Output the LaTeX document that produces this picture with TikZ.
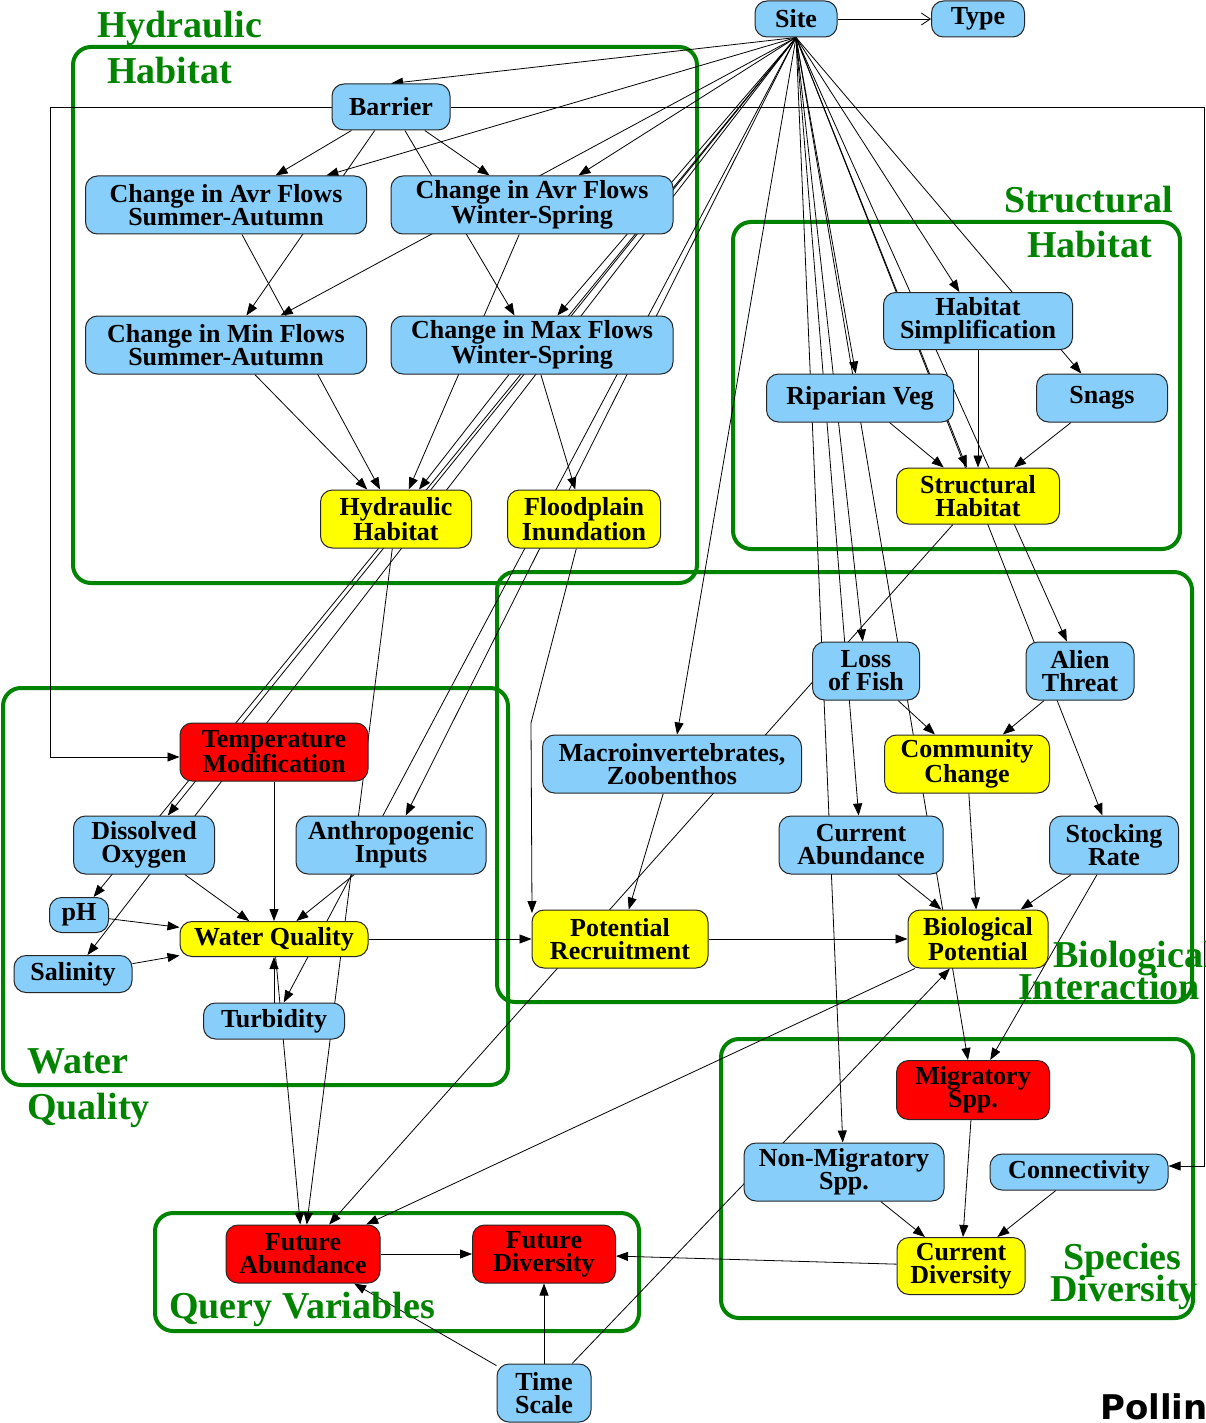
\documentclass[tikz,border=0pt]{standalone}
\usepackage{fontspec}
\setmainfont{Liberation Serif}
\newfontfamily\captionsans{DejaVu Sans}
\usetikzlibrary{arrows.meta}
\pgfdeclarelayer{background}
\pgfsetlayers{background,main}
\definecolor{nodeblue}{RGB}{135,206,250}
\definecolor{nodeyellow}{RGB}{255,255,0}
\definecolor{nodered}{RGB}{255,0,0}
\definecolor{clustergreen}{RGB}{0,132,0}
\begin{document}
\begin{tikzpicture}[x=1pt,y=-1pt,
  box/.style={draw=black!85, line width=1pt, rounded corners=12pt, align=center,
    inner sep=0pt, font=\fontsize{26}{23}\selectfont\bfseries},
  bnode/.style={box, fill=nodeblue},
  ynode/.style={box, fill=nodeyellow},
  rnode/.style={box, fill=nodered},
  sz/.style 2 args={minimum width=#1pt, minimum height=#2pt},
  arr/.style={-{Triangle[length=12pt,width=9pt]}, line width=0.8pt},
  oarr/.style={-{Straight Barb[length=9pt,width=12pt]}, line width=0.8pt},
  clus/.style={draw=clustergreen, line width=4pt, rounded corners=18pt},
  glab/.style={text=clustergreen, font=\fontsize{38}{40}\selectfont\bfseries,
    inner sep=0pt, anchor=base west}]

\useasboundingbox (0,0) rectangle (1206,1423);

% ---- variables ----
\node[bnode, sz={82}{36}]   (site)      at (796,19)   {Site};
\node[bnode, sz={93}{36}]   (type)      at (978,19)   {Type};
\node[bnode, sz={118}{46}]  (barrier)   at (391,107)  {Barrier};
\node[bnode, sz={281}{58}]  (avrsa)     at (226,205)  {Change in Avr Flows\\Summer-Autumn};
\node[bnode, sz={282}{58}]  (avrws)     at (532,205)  {Change in Avr Flows\\Winter-Spring};
\node[bnode, sz={281}{58}]  (minsa)     at (226,345)  {Change in Min Flows\\Summer-Autumn};
\node[bnode, sz={282}{58}]  (maxws)     at (532,345)  {Change in Max Flows\\Winter-Spring};
\node[ynode, sz={151}{58}]  (hydhab)    at (396,519)  {Hydraulic\\Habitat};
\node[ynode, sz={153}{58}]  (flood)     at (584,519)  {Floodplain\\Inundation};
\node[bnode, sz={189}{57}]  (habsimp)   at (978,321)  {Habitat\\Simplification};
\node[bnode, sz={187}{48}]  (ripveg)    at (860,398)  {Riparian Veg};
\node[bnode, sz={131}{48}]  (snags)     at (1102,398) {Snags};
\node[ynode, sz={163}{56}]  (structhab) at (978,496)  {Structural\\Habitat};
\node[bnode, sz={107}{58}]  (lossfish)  at (866,671)  {Loss\\of Fish};
\node[bnode, sz={108}{58}]  (alien)     at (1080,671) {Alien\\Threat};
\node[bnode, sz={259}{58}]  (macro)     at (672,764)  {Macroinvertebrates,\\Zoobenthos};
\node[ynode, sz={165}{58}]  (commchg)   at (967,764)  {Community\\Change};
\node[bnode, sz={164}{58}]  (curabund)  at (861,845)  {Current\\Abundance};
\node[bnode, sz={129}{58}]  (stocking)  at (1114,845) {Stocking\\Rate};
\node[ynode, sz={176}{58}]  (potrec)    at (620,939)  {Potential\\Recruitment};
\node[ynode, sz={140}{58}]  (biopot)    at (978,939)  {Biological\\Potential};
\node[rnode, sz={188}{58}]  (tempmod)   at (274,752)  {Temperature\\Modification};
\node[bnode, sz={141}{58}]  (dissox)    at (144,845)  {Dissolved\\Oxygen};
\node[bnode, sz={190}{58}]  (anthro)    at (391,845)  {Anthropogenic\\Inputs};
\node[bnode, sz={59}{35}]   (ph)        at (79,915)   {pH};
\node[ynode, sz={188}{35}]  (wq)        at (274,939)  {Water Quality};
\node[bnode, sz={118}{37}]  (salinity)  at (73,974)   {Salinity};
\node[bnode, sz={141}{36}]  (turb)      at (274,1021) {Turbidity};
\node[rnode, sz={153}{59}]  (migr)      at (973,1090) {Migratory\\Spp.};
\node[bnode, sz={200}{58}]  (nonmig)    at (844,1172) {Non-Migratory\\Spp.};
\node[bnode, sz={178}{36}]  (conn)      at (1079,1172) {Connectivity};
\node[ynode, sz={128}{57}]  (curdiv)    at (961,1266) {Current\\Diversity};
\node[rnode, sz={154}{58}]  (futabund)  at (303,1254) {Future\\Abundance};
\node[rnode, sz={143}{58}]  (futdiv)    at (544,1254) {Future\\Diversity};
\node[bnode, sz={94}{58}]   (timescale) at (544,1393) {Time\\Scale};

% ---- group titles ----
\node[glab] (tHyd1) at (97,38)    {Hydraulic};
\node[glab] (tHyd2) at (107,84)   {Habitat};
\node[glab] (tStr1) at (1004,213) {Structural};
\node[glab] (tStr2) at (1027,258) {Habitat};
\node[glab] (tBio1) at (1053,967) {Biological};
\node[glab] (tBio2) at (1018,999) {Interaction};
\node[glab] (tWat1) at (27,1073)  {Water};
\node[glab] (tWat2) at (27,1119)  {Quality};
\node[glab] (tSpe1) at (1063,1269) {Species};
\node[glab] (tSpe2) at (1050,1301) {Diversity};
\node[glab] (tQry)  at (169,1318) {Query Variables};

\node[font=\fontsize{34}{36}\selectfont\captionsans\bfseries, anchor=base west,
  inner sep=0pt] (caption) at (1100,1419) {Pollin};

% bend points of the routed connectors
\coordinate (bl1) at (50,107);
\coordinate (bl2) at (50,757);
\coordinate (br1) at (1204,107);
\coordinate (br2) at (1204,1166);
\coordinate (fb1) at (531,723);
\coordinate (fb2) at (532,913);

\begin{pgfonlayer}{background}
  \fill[white] (0,0) rectangle (1206,1423);
  % groups
  \draw[clus] (73,47) rectangle (697,583);
  \draw[clus] (733,222) rectangle (1180,549);
  \draw[clus] (497,572) rectangle (1192,1002);
  \draw[clus] (3,688) rectangle (508,1085);
  \draw[clus] (721,1039) rectangle (1193,1318);
  \draw[clus] (155,1213) rectangle (639,1331);

  % from Site
  \draw[oarr] (site) -- (type);
  \draw[arr] (site.south) -- (barrier.north);
  \foreach \t in {avrsa,avrws,minsa,maxws,dissox,ph,salinity,anthro,turb,
                  macro,habsimp,ripveg,snags,structhab,lossfish,alien,stocking,
                  curabund,migr,nonmig}
    \draw[arr] (site.south) -- (\t);

  % hydraulic habitat
  \foreach \t in {avrsa,avrws,minsa,maxws}
    \draw[arr] (barrier) -- (\t);
  \foreach \s in {avrsa,avrws,minsa,maxws}
    \draw[arr] (\s) -- (hydhab);
  \draw[arr] (maxws) -- (flood);
  \draw[arr] (barrier.west) -- (bl1) -- (bl2) -- (bl2 -| tempmod.west);
  \draw[arr] (barrier.east) -- (br1) -- (br2) -- (br2 -| conn.east);

  % structural habitat
  \foreach \s in {habsimp,ripveg,snags}
    \draw[arr] (\s) -- (structhab);
  \draw[arr] (structhab) -- (futabund);

  % water quality
  \foreach \s in {tempmod,dissox,anthro,ph,salinity,turb}
    \draw[arr] (\s) -- (wq);
  \draw[arr] (wq) -- (potrec);
  \draw[arr] (wq) -- (futabund);
  \draw[arr] (hydhab) -- (futabund);

  % biological interaction
  \draw[arr] (lossfish) -- (commchg);
  \draw[arr] (alien) -- (commchg);
  \foreach \s in {commchg,curabund,stocking,potrec}
    \draw[arr] (\s) -- (biopot);
  \draw[arr] (macro) -- (potrec);
  \draw[arr] (flood) -- (fb1) -- (fb2);
  \draw[arr] (stocking) -- (migr);
  \draw[arr] (biopot) -- (futabund);

  % species diversity and queries
  \foreach \s in {migr,nonmig,conn}
    \draw[arr] (\s) -- (curdiv);
  \draw[arr] (curdiv) -- (futdiv);
  \draw[arr] (futabund) -- (futdiv);
  \draw[arr] (timescale) -- (futdiv);
  \draw[arr] (timescale) -- (futabund);
  \draw[arr] (timescale) -- (biopot);
\end{pgfonlayer}
\end{tikzpicture}
\end{document}
